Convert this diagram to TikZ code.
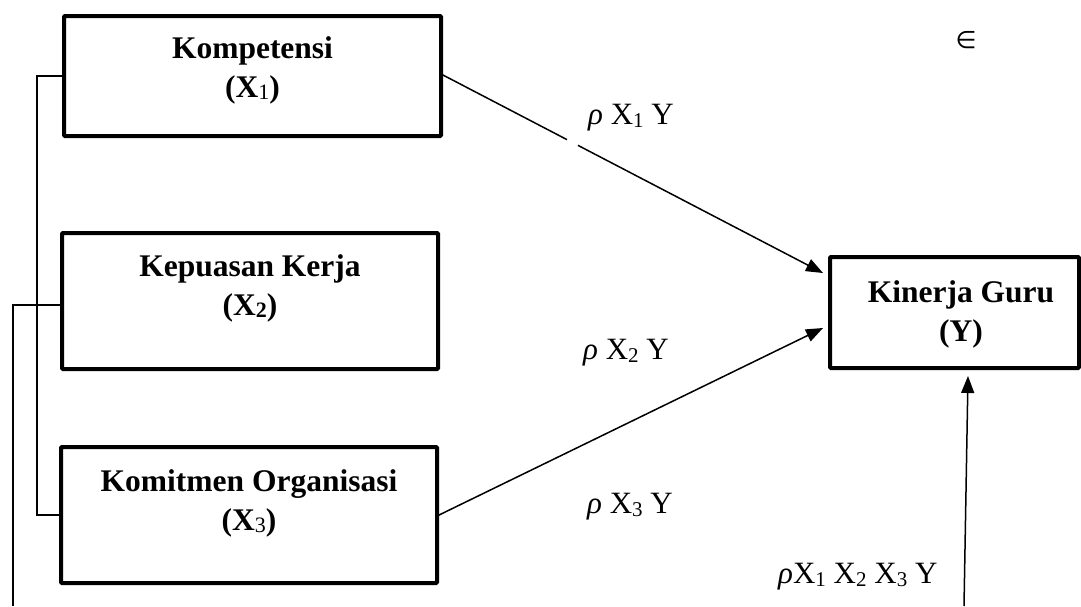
\documentclass[tikz,border=0pt]{standalone}
\usepackage{fontspec}
\setmainfont{Liberation Serif}
\newfontfamily\dejavu{DejaVu Sans}
\usetikzlibrary{arrows.meta}
\newcommand\subA[1]{\raisebox{-3pt}{\fontsize{21}{21}\selectfont #1}}
\newcommand\subB[1]{\raisebox{-2pt}{\fontsize{22}{22}\selectfont\mdseries #1}}
\newcommand\subBb[1]{\raisebox{-2pt}{\fontsize{22}{22}\selectfont #1}}
\tikzset{
  varbox/.style={draw, line width=4pt, rounded corners=1pt, outer sep=0pt, inner sep=0pt},
  boxtext/.style={anchor=base, inner sep=0pt, font=\fontsize{31.5}{39.5}\selectfont\bfseries},
  lbl/.style={anchor=base west, inner sep=0pt, font=\fontsize{31}{36}\selectfont},
  conn/.style={line width=1.5pt},
  arr/.style={conn, -{Triangle[length=17pt,width=13pt]}}
}
\begin{document}
\begin{tikzpicture}[x=1pt,y=-1pt]
\useasboundingbox (0,0) rectangle (1081,606);
% boxes
\node[varbox, minimum width=377pt, minimum height=120pt] (x1) at (252.5,76) {};
\node[varbox, minimum width=376pt, minimum height=136pt] (x2) at (250,301) {};
\node[varbox, minimum width=376pt, minimum height=136pt] (x3) at (249,515) {};
\node[varbox, minimum width=249pt, minimum height=111pt] (yb) at (954.5,312.5) {};
% box texts
\node[boxtext] (t1) at (252.5,58) {\begin{tabular}[t]{@{}c@{}}Kompetensi\\(X\subB{1})\end{tabular}};
\node[boxtext] (t2) at (250,276) {\begin{tabular}[t]{@{}c@{}}Kepuasan Kerja\\(X\subBb{2})\end{tabular}};
\node[boxtext] (t3) at (249,491) {\begin{tabular}[t]{@{}c@{}}Komitmen Organisasi\\(X\subB{3})\end{tabular}};
\node[boxtext] (ty) at (961,302) {\begin{tabular}[t]{@{}c@{}}Kinerja Guru\\(Y)\end{tabular}};
% brackets
\coordinate (ba) at (37,76);
\draw[conn] (x1.west) -- (ba) |- (x3.west);
\coordinate (bb) at (13,305);
\coordinate (bbend) at (13,606);
\draw[conn] ([yshift=-4pt]x2.west) -- (bb) -- (bbend);
% arrows
\draw[arr, dash pattern=on 142pt off 12.4pt on 1000pt] ([yshift=2pt]x1.east) -- ([xshift=-7pt,yshift=39.5pt]yb.west);
\draw[arr] ([yshift=-1pt]x3.east) -- ([xshift=-7pt,yshift=-15.5pt]yb.west);
\coordinate (ebot) at (964,606);
\draw[arr] (ebot) -- ([xshift=13.5pt,yshift=-8pt]yb.south);
% labels
\node[lbl] (l1) at (588,124) {\textit{ρ} X\subA{1} Y};
\node[lbl] (l2) at (583,359) {\textit{ρ} X\subA{2} Y};
\node[lbl] (l3) at (587,513) {\textit{ρ} X\subA{3} Y};
\node[lbl] (l4) at (778,583) {\textit{ρ}X\subA{1} X\subA{2} X\subA{3} Y};
\node[font=\dejavu\fontsize{24}{28}\selectfont, inner sep=0pt] (eps) at (966,40) {∈};
\end{tikzpicture}
\end{document}
